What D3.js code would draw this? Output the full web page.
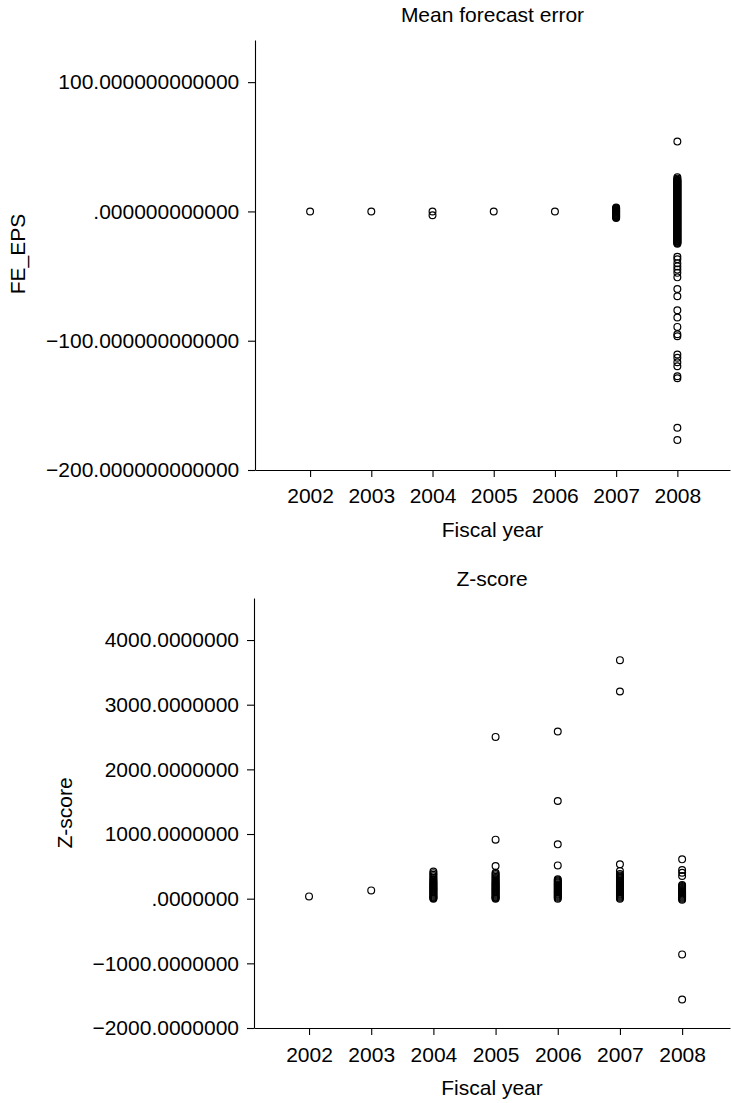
<!DOCTYPE html>
<html>
<head>
<meta charset="utf-8">
<script src="https://cdn.jsdelivr.net/npm/d3@7"></script>
<style>
  html, body { margin: 0; padding: 0; background: #fff; }
  svg { display: block; }
  text { font-family: "Liberation Sans", Arial, Helvetica, sans-serif; fill: #000; }
</style>
</head>
<body>
<svg id="chart" width="731" height="1103"></svg>
<script>
// ---------- DATA ----------
const years = [2002, 2003, 2004, 2005, 2006, 2007, 2008];

// Mean forecast error (FE_EPS) observations per fiscal year
const fe2002 = [0];
const fe2003 = [0];
const fe2004 = [0, -3];
const fe2005 = [0];
const fe2006 = [0];
const fe2007 = [3, 2.5, 2, 1.5, 1, 0.5, 0, -0.5, -1, -1.5, -2, -2.5, -3, -3.5, -4, -4.5, -5];
const fe2008 = [54, 26.5, 25.5, 24.5, 24, 23.5, 23, 22.5, 22, 21.5, 21, 20.5, 20, 19.5, 19, 18.5, 18, 17.5, 17,
  16.5, 16, 15.5, 15, 14.5, 14, 13.5, 13, 12.5, 12, 11.5, 11, 10.5, 10, 9.5, 9, 8.5, 8, 7.5, 7, 6.5, 6, 5.5, 5,
  4.5, 4, 3.5, 3, 2.5, 2, 1.5, 1, 0.5, 0, -0.5, -1, -1.5, -2, -2.5, -3, -3.5, -4, -4.5, -5, -5.5, -6, -6.5, -7,
  -7.5, -8, -8.5, -9, -9.5, -10, -10.5, -11, -11.5, -12, -12.5, -13, -13.5, -14, -14.5, -15, -15.5, -16, -16.5,
  -17, -17.5, -18, -18.5, -19, -19.5, -20, -20.5, -21, -21.5, -22, -22.5, -23, -23.5, -24, -24.5, -25,
  -35, -37, -40, -42.5, -45, -47.5, -51, -60, -65.6, -76.4, -82, -89.3, -95, -96.5,
  -110.7, -113.2, -116.6, -119.7, -127.5, -129, -167.3, -176.8];
const feValues = [fe2002, fe2003, fe2004, fe2005, fe2006, fe2007, fe2008];
const feTicks = [100, 0, -100, -200];

// Z-score observations per fiscal year
const z2002 = [35];
const z2003 = [128];
const z2004 = [420, 395, 370, 345, 320, 300, 280, 260, 245, 230, 215, 200, 185, 170, 155, 140, 125, 110,
  95, 80, 65, 50, 35, 20, 10, 0];
const z2005 = [2502, 913, 505, 400, 380, 360, 340, 320, 300, 280, 260, 245, 230, 215, 200, 185, 170, 155, 140,
  125, 110, 95, 80, 65, 50, 35, 20, 10, 0];
const z2006 = [2585, 1511, 840, 515, 300, 285, 270, 255, 240, 225, 210, 195, 180, 165, 150, 135, 120, 105,
  90, 75, 60, 45, 30, 15, 0];
const z2007 = [3689, 3204, 531, 427, 380, 360, 345, 330, 315, 300, 285, 270, 255, 240, 225, 210, 195, 180,
  165, 150, 135, 120, 105, 90, 75, 60, 45, 30, 15, 0];
const z2008 = [608, 443, 402, 350, 210, 195, 180, 165, 150, 135, 120, 105, 90, 75, 60, 45, 30, 15, 0, -15,
  -862, -1559];
const zValues = [z2002, z2003, z2004, z2005, z2006, z2007, z2008];
const zTicks = [4000, 3000, 2000, 1000, 0, -1000, -2000];

// ---------- DRAW ----------
const svg = d3.select("#chart");
svg.append("rect").attr("width", 731).attr("height", 1103).attr("fill", "#fff");

const FONT = 21;

function fmt(decimals) {
  const zeros = "0".repeat(decimals);
  return d => {
    const a = Math.abs(d);
    return (d < 0 ? "\u2212" : "") + (a === 0 ? "" : String(a)) + "." + zeros;
  };
}

function panel(cfg) {
  const g = svg.append("g");
  const x = d3.scaleLinear().domain(cfg.xDomain).range([cfg.left, cfg.right]);
  const y = d3.scaleLinear().domain(cfg.yDomain).range([cfg.bottom, cfg.top]);

  // title
  g.append("text")
    .attr("x", (cfg.left + cfg.right) / 2)
    .attr("y", cfg.titleY)
    .attr("text-anchor", "middle")
    .attr("font-size", FONT)
    .text(cfg.title);

  // points
  const pts = [];
  years.forEach((yr, i) => cfg.values[i].forEach(v => pts.push({ yr, v })));
  g.append("g").selectAll("circle").data(pts).join("circle")
    .attr("cx", d => x(d.yr))
    .attr("cy", d => y(d.v))
    .attr("r", 3.4)
    .attr("fill", "none")
    .attr("stroke", "#000")
    .attr("stroke-width", 1.2);

  // x axis
  const xAxis = g.append("g")
    .attr("transform", `translate(0,${cfg.bottom})`)
    .call(d3.axisBottom(x).tickValues(years).tickFormat(d3.format("d"))
      .tickSizeInner(7).tickSizeOuter(0).tickPadding(cfg.xPad));
  // y axis
  const yAxis = g.append("g")
    .attr("transform", `translate(${cfg.left},0)`)
    .call(d3.axisLeft(y).tickValues(cfg.ticks).tickFormat(fmt(cfg.decimals))
      .tickSizeInner(7).tickSizeOuter(0).tickPadding(cfg.yPad));

  [xAxis, yAxis].forEach(a => {
    a.selectAll("text").attr("font-size", FONT).attr("font-family", null).attr("fill", "#000");
    a.selectAll("line,path").attr("stroke", "#000").attr("stroke-width", 1.1);
    a.attr("font-family", null).attr("font-size", null);
  });

  // axis labels
  g.append("text")
    .attr("x", (cfg.left + cfg.right) / 2)
    .attr("y", cfg.xLabelY)
    .attr("text-anchor", "middle")
    .attr("font-size", FONT)
    .text("Fiscal year");

  g.append("text")
    .attr("transform", `translate(${cfg.yLabelX},${cfg.yLabelY}) rotate(-90)`)
    .attr("text-anchor", "middle")
    .attr("font-size", FONT)
    .text(cfg.yLabel);
}

panel({
  title: "Mean forecast error", titleY: 22,
  values: feValues, ticks: feTicks, decimals: 12,
  xDomain: [2001.1, 2008.86], yDomain: [-200, 132.6],
  left: 255, right: 730, top: 40, bottom: 470,
  xPad: 11.5, yPad: 8.7,
  xLabelY: 537, yLabel: "FE_EPS", yLabelX: 25, yLabelY: 254
});

panel({
  title: "Z-score", titleY: 586,
  values: zValues, ticks: zTicks, decimals: 7,
  xDomain: [2001.115, 2008.77], yDomain: [-2000, 4650],
  left: 254, right: 730, top: 598, bottom: 1028,
  xPad: 12.5, yPad: 8,
  xLabelY: 1095, yLabel: "Z-score", yLabelX: 71.5, yLabelY: 813
});
</script>
</body>
</html>
